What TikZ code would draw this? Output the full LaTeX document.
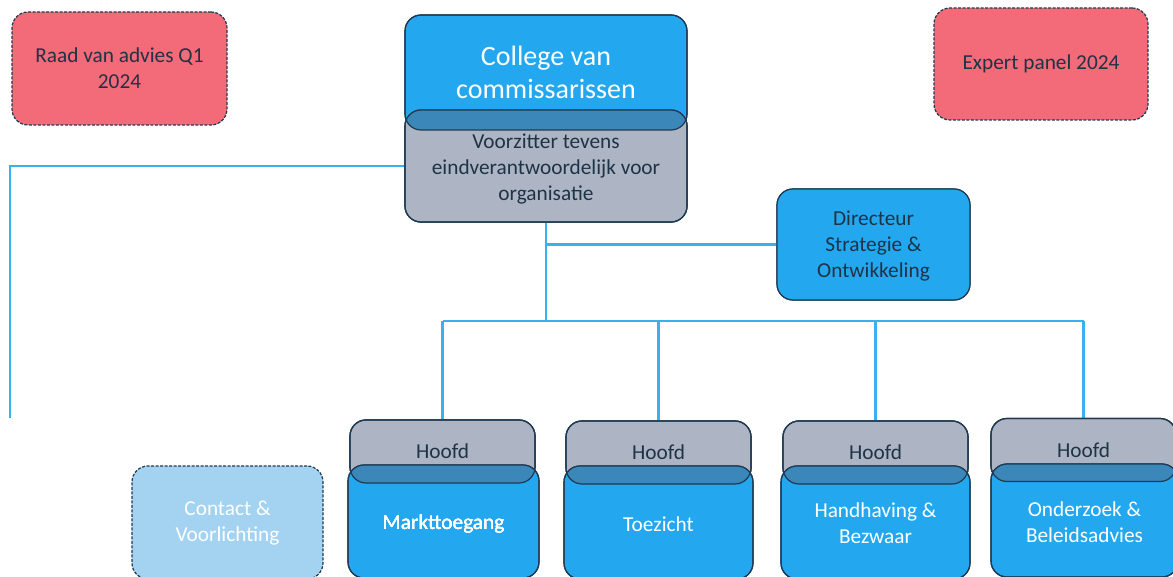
\documentclass[tikz,border=0pt]{standalone}
\usepackage{fontspec}
\setmainfont{Carlito}
\definecolor{mainblue}{HTML}{23A8F0}
\definecolor{headgrey}{HTML}{ADB5C4}
\definecolor{advred}{HTML}{F36B78}
\definecolor{paleblue}{HTML}{A3D3F0}
\definecolor{overlapc}{HTML}{3B87B9}
\definecolor{linec}{HTML}{3AB0EE}
\definecolor{edgec}{HTML}{1F3A52}
\definecolor{textc}{HTML}{1F3346}
\tikzset{
  box/.style={draw=edgec, line width=1.2pt, rounded corners=16pt, align=center,
    outer sep=0pt, inner sep=2pt, text=textc, font=\fontsize{21.3}{26}\selectfont},
  bluebox/.style={box, fill=mainblue, text=white},
  greybox/.style={box, fill=headgrey},
  redbox/.style={box, fill=advred, dash pattern=on 3pt off 1.5pt},
  palebox/.style={box, fill=paleblue, text=white, dash pattern=on 3pt off 1.5pt},
  conn/.style={draw=linec, line width=2.3pt},
  rim/.style={draw=edgec, line width=1.2pt, rounded corners=16pt},
  label/.style={align=center, font=\fontsize{21.3}{26}\selectfont}
}
% darker band where a blue box lies over a grey one
\newcommand{\boxoverlap}[2]{%
  \begin{scope}
    \clip[rounded corners=16pt] (#1.north west) rectangle (#1.south east);
    \fill[overlapc, rounded corners=16pt] (#2.north west) rectangle (#2.south east);
  \end{scope}
  \draw[rim] (#1.north west) rectangle (#1.south east);
  \draw[rim] (#2.north west) rectangle (#2.south east);
}
\begin{document}
\begin{tikzpicture}[x=1pt,y=-1pt]
  \useasboundingbox (0,0) rectangle (1173,577);
  \clip (0,0) rectangle (1173,577);

  % connectors
  \coordinate (leftend) at (10,418);
  \coordinate (hub) at (546,321);
  \node[greybox, minimum width=282, minimum height=112] (voorzitter) at (546,166) {};
  \node[bluebox, minimum width=193, minimum height=111] (directeur) at (873.5,244.5) {};
  \foreach \n/\x/\y in {1/442.5/451.5, 2/658.5/452.5, 3/875.5/452.5, 4/1083.5/450}
    \node[greybox, minimum width=185, minimum height=63] (hoofd\n) at (\x,\y) {};
  \draw[conn] (voorzitter.west) -| (leftend);
  \draw[conn] (voorzitter.south) -- (hub);
  \draw[conn] (voorzitter.south |- directeur.west) -- (directeur.west);
  \draw[conn] (hoofd1.north |- hub) -- (hoofd4.north |- hub);
  \foreach \n in {1,...,4}
    \draw[conn] (hoofd\n.north |- hub) -- (hoofd\n.north);

  % top
  \node[redbox, minimum width=215, minimum height=113] (raad) at (119.5,68.5) {Raad van advies Q1\\2024};
  \node[redbox, minimum width=214, minimum height=112] (expert) at (1041,64) {Expert panel 2024};
  \node[bluebox, minimum width=282, minimum height=115, font=\fontsize{28}{33}\selectfont] (college) at (546,72.5) {College van\\commissarissen};
  \node[greybox, minimum width=282, minimum height=112] (voorzitter) at (546,166) {};
  \boxoverlap{college}{voorzitter}
  \node[label, text=textc] at ([yshift=-3pt]voorzitter) {Voorzitter tevens\\eindverantwoordelijk voor\\organisatie};
  \node[bluebox, minimum width=193, minimum height=111] (directeur) at (873.5,244.5) {};
  \node[label, text=textc] at ([yshift=-2pt]directeur) {Directeur\\Strategie \&\\Ontwikkeling};

  % afdelingen
  \foreach \n/\x/\y in {1/442.5/451.5, 2/658.5/452.5, 3/875.5/452.5, 4/1083.5/450}
    \node[greybox, minimum width=185, minimum height=63] (hoofd\n) at (\x,\y) {Hoofd};
  \node[bluebox, minimum width=191, minimum height=113] (afd1) at (443.5,521.5) {};
  \node[bluebox, minimum width=189, minimum height=113] (afd2) at (658.5,522.5) {};
  \node[bluebox, minimum width=189, minimum height=113] (afd3) at (875.5,522.5) {};
  \node[bluebox, minimum width=187, minimum height=113] (afd4) at (1084.5,520.5) {};
  \foreach \n in {1,...,4}
    \boxoverlap{hoofd\n}{afd\n}
  \node[label, text=white] at ([yshift=-2pt]afd1) {Markttoegang};
  \node[label, text=white] at ([yshift=-2pt]afd2) {Toezicht};
  \node[label, text=white] at ([yshift=-1pt]afd3) {Handhaving \&\\Bezwaar};
  \node[label, text=white] at ([yshift=-2pt]afd4) {Onderzoek \&\\Beleidsadvies};
  \node[palebox, minimum width=191, minimum height=113] (contact) at (227.5,522.5) {};
  \node[label, text=white] at ([yshift=-1pt]contact) {Contact \&\\Voorlichting};
\end{tikzpicture}
\end{document}
